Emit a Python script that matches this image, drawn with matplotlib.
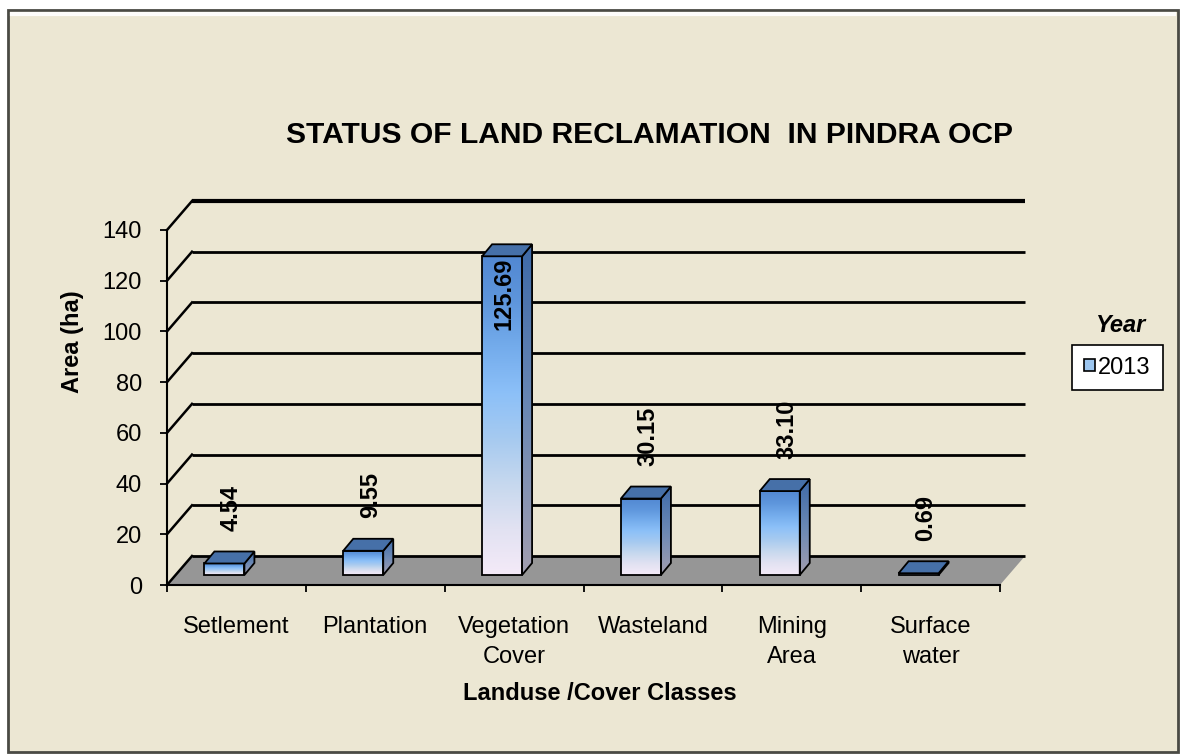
import numpy as np
import matplotlib.pyplot as plt
from matplotlib.patches import Polygon, Rectangle
from matplotlib.colors import LinearSegmentedColormap

# data
categories = ["Setlement", "Plantation", "Vegetation\nCover", "Wasteland", "Mining\nArea", "Surface\nwater"]
area_2013 = [4.54, 9.55, 125.69, 30.15, 33.10, 0.69]
y_ticks = [0, 20, 40, 60, 80, 100, 120, 140]
legend_label = "2013"

plt.rcParams['font.family'] = ['Liberation Sans', 'DejaVu Sans']

W, H = 1182, 756
fig = plt.figure(figsize=(W / 100, H / 100), dpi=100)
fig.patch.set_facecolor('white')

# beige chart panel with a dark frame
panel = Rectangle((8 / W, 4 / H), 1170 / W, 742 / H, transform=fig.transFigure,
                  facecolor='#ECE7D3', edgecolor='#4a4a44', lw=2.0, zorder=-5)
fig.patches.append(panel)
fig.add_artist(plt.Line2D([12 / W, 1174 / W], [1 - 14 / H, 1 - 14 / H], transform=fig.transFigure,
                          color='white', lw=3, alpha=0.9, zorder=-4))

# axes placed so that x: 1 unit per category, y: value units
px_x = (1000 - 167) / 6.0
px_y = (585 - 230) / 140.0
xmax, ymax = 6.2, 152
ax = fig.add_axes([167 / W, (H - 585) / H, xmax * px_x / W, ymax * px_y / H])
ax.patch.set_alpha(0)

# depth of the 3D box
DX, DY = 25 / px_x, 29 / px_y

# floor
floor = Polygon([(0, 0), (6, 0), (6 + DX, DY), (DX, DY)], closed=True,
                facecolor='#969696', edgecolor='none', zorder=1)
ax.add_patch(floor)

# gridlines on side and back walls
for v in y_ticks:
    lw = 3 if v == y_ticks[-1] else 2
    ax.plot([0, DX], [v, v + DY], color='black', lw=1.8, zorder=2, clip_on=False)
    ax.plot([DX, 6 + DX], [v + DY, v + DY], color='black', lw=lw,
            solid_capstyle='butt', zorder=2, clip_on=False)

# bars
front_cmap = LinearSegmentedColormap.from_list(
    'front', ['#F4EAF8', '#E2E2F2', '#C6D8EE', '#A6CAF0', '#8CC0F8', '#74ACEC', '#5E96DC', '#5288D2'])
side_cmap = LinearSegmentedColormap.from_list('side', ['#A29EB0', '#6A88B4', '#3E6AA8'])
grad = np.linspace(0, 1, 256).reshape(-1, 1)

bw = 40 / px_x
bdx, bdy = 10 / px_x, 12 / px_y
y0 = 10 / px_y
for i, v in enumerate(area_2013):
    x0 = i + 0.5 - 32 / px_x
    top = y0 + v
    # front face
    im = ax.imshow(grad, cmap=front_cmap, origin='lower', aspect='auto',
                   extent=(x0, x0 + bw, y0, top), zorder=3)
    rect = Rectangle((x0, y0), bw, v, facecolor='none', edgecolor='black', lw=1.3, zorder=4)
    ax.add_patch(rect)
    im.set_clip_path(rect)
    # side face
    side = Polygon([(x0 + bw, y0), (x0 + bw + bdx, y0 + bdy), (x0 + bw + bdx, top + bdy), (x0 + bw, top)],
                   closed=True, facecolor='none', edgecolor='black', lw=1.3, zorder=4)
    ax.add_patch(side)
    ims = ax.imshow(grad, cmap=side_cmap, origin='lower', aspect='auto',
                    extent=(x0 + bw, x0 + bw + bdx, y0, top + bdy), zorder=3)
    ims.set_clip_path(side)
    # top face
    ax.add_patch(Polygon([(x0, top), (x0 + bw, top), (x0 + bw + bdx, top + bdy), (x0 + bdx, top + bdy)],
                         closed=True, facecolor='#4670A8', edgecolor='black', lw=1.3, zorder=5))
    # value label
    lx = x0 + bw / 2 + 7 / px_x
    if top + bdy + 35 > y_ticks[-1]:
        ax.text(lx - 5 / px_x, top - 0.5, f"{v:.2f}", rotation=90, ha='center', va='top',
                fontsize=17, fontweight='bold', zorder=6)
    else:
        ax.text(lx, top + bdy + 8, f"{v:.2f}", rotation=90, ha='center', va='bottom',
                fontsize=17, fontweight='bold', zorder=6)

ax.set_xlim(0, xmax)
ax.set_ylim(0, ymax)

# axes spines and ticks
for s in ['top', 'right']:
    ax.spines[s].set_visible(False)
ax.spines['left'].set_bounds(0, y_ticks[-1])
ax.spines['bottom'].set_bounds(0, 6)
ax.spines['left'].set_linewidth(1.5)
ax.spines['bottom'].set_linewidth(1.5)
ax.spines['left'].set_zorder(6)
ax.spines['bottom'].set_zorder(6)
ax.set_yticks(y_ticks)
ax.set_yticklabels([str(t) for t in y_ticks])
ax.tick_params(axis='y', length=5, width=1.3, pad=13, labelsize=17)
ax.set_xticks(np.arange(0, 7))
ax.set_xticklabels([])
ax.set_xticks(np.arange(6) + 0.5, minor=True)
ax.set_xticklabels(categories, minor=True)
ax.tick_params(axis='x', which='major', length=5, width=1.3)
ax.tick_params(axis='x', which='minor', length=0, pad=22, labelsize=17)
for t in ax.get_xticklabels(minor=True):
    t.set_linespacing(1.5)

# titles
fig.text(650 / W, 1 - 135 / H, "STATUS OF LAND RECLAMATION  IN PINDRA OCP",
         ha='center', va='center', fontsize=21.6, fontweight='bold')
fig.text(72 / W, 1 - 342 / H, "Area (ha)", rotation=90, ha='center', va='center',
         fontsize=17, fontweight='bold')
fig.text(600 / W, 1 - 694 / H, "Landuse /Cover Classes", ha='center', va='center',
         fontsize=17, fontweight='bold')

# legend
fig.text(1120 / W, 1 - 325 / H, "Year", ha='center', va='center', fontsize=17,
         fontweight='bold', style='italic')
handle = Rectangle((0, 0), 1, 1, facecolor='#9CC6F0', edgecolor='black', lw=1.2)
leg = fig.legend([handle], [legend_label], loc='center', bbox_to_anchor=(1117.5 / W, 1 - 367.5 / H),
                 fontsize=17, frameon=True, fancybox=False, handlelength=0.45, handleheight=0.45,
                 handletextpad=0.15, borderpad=0.5, borderaxespad=0)
leg.get_frame().set_edgecolor('black')
leg.get_frame().set_linewidth(1.2)
leg.get_frame().set_facecolor('white')
leg.get_frame().set_alpha(1)

fig.savefig('out.png', dpi=100)
